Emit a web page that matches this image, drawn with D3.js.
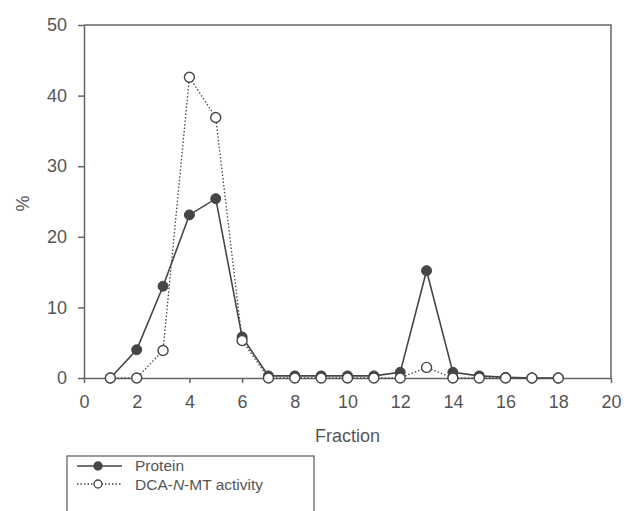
<!DOCTYPE html>
<html>
<head>
<meta charset="utf-8">
<script src="https://cdn.jsdelivr.net/npm/d3@7"></script>
<style>
  body { margin: 0; background: #fff; }
  text { font-family: "Liberation Sans", Arial, sans-serif; fill: #555; }
</style>
</head>
<body>
<div id="container"></div>
<script>
let w = 624;
let h = 511;
let margin = {top: 25, right: 13, bottom: 133, left: 84};

// data
let fractions = [1, 2, 3, 4, 5, 6, 7, 8, 9, 10, 11, 12, 13, 14, 15, 16, 17, 18];
let protein   = [0, 4, 13, 23.1, 25.4, 5.8, 0.3, 0.3, 0.3, 0.3, 0.3, 0.8, 15.2, 0.8, 0.3, 0.1, 0, 0];
let activity  = [0, 0, 3.9, 42.6, 36.9, 5.3, 0, 0, 0, 0, 0, 0, 1.5, 0, 0, 0, 0, 0];
let xTicks = [0, 2, 4, 6, 8, 10, 12, 14, 16, 18, 20];
let yTicks = [0, 10, 20, 30, 40, 50];
let seriesNames = ["Protein", "DCA-N-MT activity"];

let ink = "#454545";

let viz = d3.select("#container")
  .append("svg")
    .attr("width", w)
    .attr("height", h)
    .style("background-color", "#fff");

let xScale = d3.scaleLinear().domain([0, 20]).range([margin.left, w - margin.right]);
let yScale = d3.scaleLinear().domain([0, 50]).range([h - margin.bottom, margin.top]);

// frame (top + right)
viz.append("path")
  .attr("d", "M" + xScale(0) + "," + yScale(50) + "H" + xScale(20) + "V" + yScale(0))
  .attr("fill", "none")
  .attr("stroke", "#666")
  .attr("stroke-width", 1.5);

let xAxis = viz.append("g")
  .attr("transform", "translate(0," + yScale(0) + ")")
  .call(d3.axisBottom(xScale).tickValues(xTicks).tickSize(5).tickSizeOuter(0).tickPadding(12));

let yAxis = viz.append("g")
  .attr("transform", "translate(" + xScale(0) + ",0)")
  .call(d3.axisLeft(yScale).tickValues(yTicks).tickSize(6).tickSizeOuter(0).tickPadding(11));

[xAxis, yAxis].forEach(function(a){
  a.selectAll("path, line").attr("stroke", "#666").attr("stroke-width", 1.5);
  a.selectAll("text").style("font-size", "18px").attr("fill", "#555");
});

viz.append("text")
  .attr("x", xScale(10))
  .attr("y", 442)
  .attr("text-anchor", "middle")
  .style("font-size", "18px")
  .text("Fraction");

viz.append("text")
  .attr("transform", "translate(29," + (yScale(25) + 2) + ") rotate(-90)")
  .attr("text-anchor", "middle")
  .style("font-size", "18px")
  .text("%");

let line = d3.line()
  .x(function(d){ return xScale(d[0]); })
  .y(function(d){ return yScale(d[1]); });

let proteinData = fractions.map(function(f, i){ return [f, protein[i]]; });
let activityData = fractions.map(function(f, i){ return [f, activity[i]]; });

viz.append("path")
  .datum(proteinData)
  .attr("d", line)
  .attr("fill", "none")
  .attr("stroke", ink)
  .attr("stroke-width", 1.6);

viz.append("path")
  .datum(activityData)
  .attr("d", line)
  .attr("fill", "none")
  .attr("stroke", ink)
  .attr("stroke-width", 1.3)
  .attr("stroke-dasharray", "1.5,2");

viz.selectAll(".pdot").data(proteinData).enter()
  .append("circle")
    .attr("cx", function(d){ return xScale(d[0]); })
    .attr("cy", function(d){ return yScale(d[1]); })
    .attr("r", 5)
    .attr("fill", ink)
    .attr("stroke", ink);

viz.selectAll(".adot").data(activityData).enter()
  .append("circle")
    .attr("cx", function(d){ return xScale(d[0]); })
    .attr("cy", function(d){ return yScale(d[1]); })
    .attr("r", 5)
    .attr("fill", "#fff")
    .attr("stroke", ink)
    .attr("stroke-width", 1.4);

// legend
let legend = viz.append("g");
legend.append("rect")
  .attr("x", 67).attr("y", 456)
  .attr("width", 247).attr("height", 70)
  .attr("fill", "none")
  .attr("stroke", "#666")
  .attr("stroke-width", 1.3);

let rows = [
  {y: 466, dash: null, fill: ink},
  {y: 484, dash: "1.5,2", fill: "#fff"}
];
rows.forEach(function(r, i){
  legend.append("line")
    .attr("x1", 77).attr("x2", 122)
    .attr("y1", r.y).attr("y2", r.y)
    .attr("stroke", ink)
    .attr("stroke-width", i == 0 ? 1.6 : 1.3)
    .attr("stroke-dasharray", r.dash);
  legend.append("circle")
    .attr("cx", 98).attr("cy", r.y)
    .attr("r", 4)
    .attr("fill", r.fill)
    .attr("stroke", ink)
    .attr("stroke-width", 1.3);
});

legend.append("text")
  .attr("x", 135).attr("y", 471)
  .style("font-size", "15.5px")
  .text(seriesNames[0]);

let t2 = legend.append("text")
  .attr("x", 135).attr("y", 489.5)
  .style("font-size", "15.5px");
t2.append("tspan").text("DCA-");
t2.append("tspan").style("font-style", "italic").text("N");
t2.append("tspan").text("-MT activity");
</script>
</body>
</html>
